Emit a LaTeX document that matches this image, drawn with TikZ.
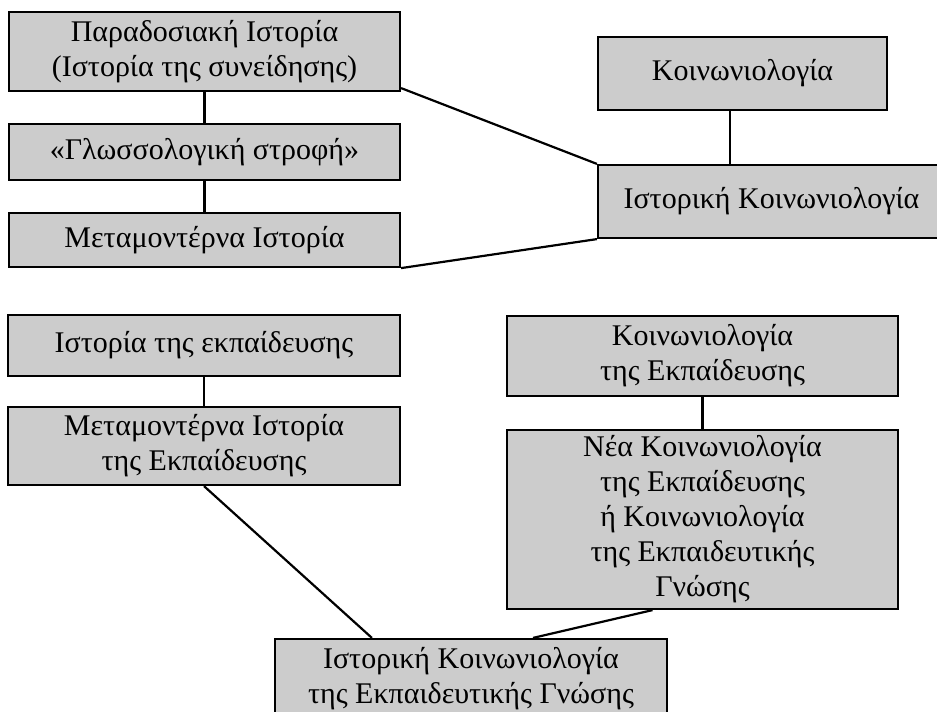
\documentclass[tikz,border=0pt]{standalone}
\usepackage{fontspec}
\setmainfont{Liberation Serif}
\tikzset{
every picture/.style={
line width=1.1pt
}}
\tikzset{greybox/.style={rectangle, draw, fill=black!20, align=center,
  inner sep=0pt, font=\fontsize{15}{17.5}\selectfont}}

\begin{document}
\begin{tikzpicture}[x=0.5pt,y=-0.5pt]
\useasboundingbox (0,0) rectangle (937,712);
% upper part
\node [greybox, minimum width=195.5pt, minimum height=39.5pt] (trad) at (204.5,51.5)
  {Παραδοσιακή Ιστορία\\(Ιστορία της συνείδησης)};
\node [greybox, minimum width=195.5pt, minimum height=28pt] (gloss) at (204.5,152)
  {«Γλωσσολογική στροφή»};
\node [greybox, minimum width=195.5pt, minimum height=27pt] (metahist) at (204.5,240)
  {Μεταμοντέρνα Ιστορία};
\node [greybox, minimum width=144.5pt, minimum height=36.5pt] (koin) at (742.5,73.5)
  {Κοινωνιολογία};
\node [greybox, minimum width=173.5pt, minimum height=36.5pt] (histsoc) at (771.5,201.5)
  {Ιστορική Κοινωνιολογία};
\draw (trad.south) -- (gloss.north);
\draw (gloss.south) -- (metahist.north);
\draw ([xshift=-6.25pt]koin.south) -- ([xshift=-6.25pt]koin.south |- histsoc.north);
\draw ([yshift=2pt]trad.south east) -- (histsoc.north west);
\draw (metahist.south east) -- (histsoc.south west);
% lower part
\node [greybox, minimum width=196pt, minimum height=30.5pt] (edhist) at (204,345.5)
  {Ιστορία της εκπαίδευσης};
\node [greybox, minimum width=196pt, minimum height=39pt] (posted) at (204,446)
  {Μεταμοντέρνα Ιστορία\\της Εκπαίδευσης};
\node [greybox, minimum width=195.5pt, minimum height=40pt] (socedu) at (702.5,356)
  {Κοινωνιολογία\\της Εκπαίδευσης};
\node [greybox, minimum width=195.5pt, minimum height=89.5pt] (newsoc) at (702.5,519.5)
  {\rule{0pt}{6pt}Νέα Κοινωνιολογία\\της Εκπαίδευσης\\ή Κοινωνιολογία\\της Εκπαιδευτικής\\Γνώσης};
\node [greybox, minimum width=196pt, minimum height=40pt] (histsocedu) at (471,679)
  {Ιστορική Κοινωνιολογία\\της Εκπαιδευτικής Γνώσης};
\draw (edhist.south) -- (posted.north);
\draw (socedu.south) -- (newsoc.north);
\draw (posted.south) -- ([xshift=49pt]histsocedu.north west);
\draw ([xshift=-25pt]newsoc.south) -- ([xshift=31pt]histsocedu.north);
\end{tikzpicture}
\end{document}
